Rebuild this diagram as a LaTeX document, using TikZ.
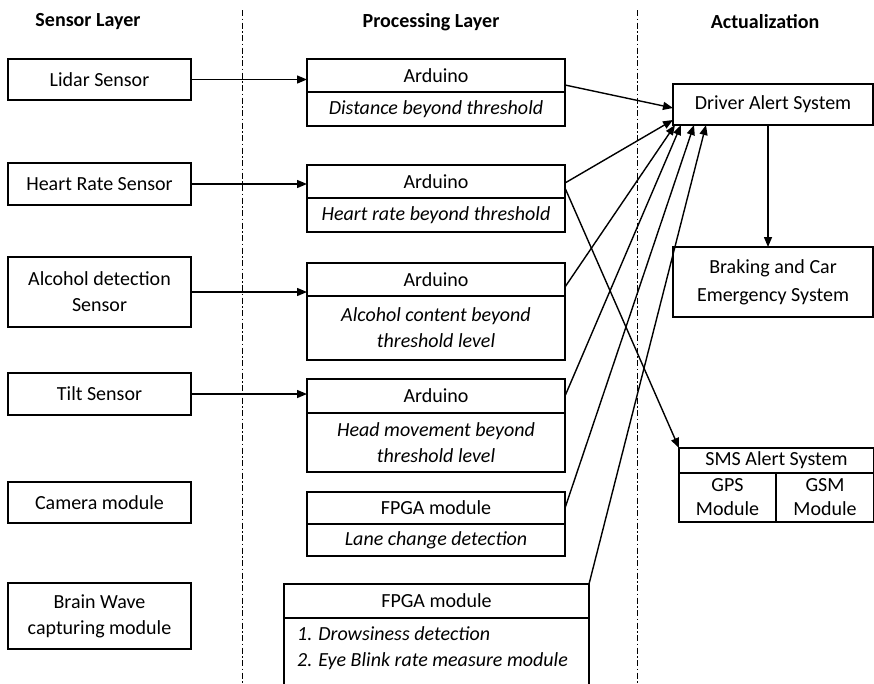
\documentclass[tikz,border=0pt]{standalone}
\usepackage{fontspec}
\setmainfont{Carlito}
\usetikzlibrary{arrows.meta}
\begin{document}
\begin{tikzpicture}[x=1pt,y=-1pt,
  box/.style={draw, line width=1.4pt, rectangle, inner sep=0pt, outer sep=0pt,
    anchor=north west, align=center, font=\fontsize{20}{26}\selectfont},
  ibox/.style={box, font=\fontsize{20}{26}\selectfont\itshape},
  head/.style={font=\fontsize{20}{24}\selectfont\bfseries},
  link/.style={line width=1.4pt, -{Triangle[length=10pt,width=8pt]}},
  layerline/.style={line width=0.9pt, dash pattern=on 6pt off 2.5pt on 1.5pt off 2.5pt}]
\useasboundingbox (0,0) rectangle (874,683);
\clip (0,0) rectangle (874,683);

% layer headings
\node[head] (hsensor) at (88,22) {Sensor Layer};
\node[head] (hproc) at (431,22) {Processing Layer};
\node[head] (hact) at (765,22) {Actualization};

% layer separators
\draw[layerline] (242,10) -- (242,683);
\draw[layerline] (637,10) -- (637,683);

% sensor layer
\node[box, minimum width=183, minimum height=41] (lidar) at (8,59) {Lidar Sensor};
\node[box, minimum width=183, minimum height=42] (heart) at (8,163) {Heart Rate Sensor};
\node[box, minimum width=183, minimum height=70] (alcohol) at (8,257) {Alcohol detection\\Sensor};
\node[box, minimum width=183, minimum height=42] (tilt) at (8,373) {Tilt Sensor};
\node[box, minimum width=183, minimum height=41] (camera) at (8,482) {Camera module};
\node[box, minimum width=183, minimum height=66] (brain) at (8,583) {Brain Wave\\capturing module};

% processing layer
\node[box, minimum width=258, minimum height=33] (a1t) at (307,59) {Arduino};
\node[ibox, minimum width=258, minimum height=34] (a1b) at (307,92) {Distance beyond threshold};
\node[box, minimum width=258, minimum height=33] (a2t) at (307,165) {Arduino};
\node[ibox, minimum width=258, minimum height=34] (a2b) at (307,198) {Heart rate beyond threshold};
\node[box, minimum width=258, minimum height=33] (a3t) at (307,263) {Arduino};
\node[ibox, minimum width=258, minimum height=64] (a3b) at (307,296) {Alcohol content beyond\\threshold level};
\node[box, minimum width=258, minimum height=34] (a4t) at (307,379) {Arduino};
\node[ibox, minimum width=258, minimum height=59] (a4b) at (307,413) {Head movement beyond\\threshold level};
\node[box, minimum width=258, minimum height=32] (f1t) at (307,492) {FPGA module};
\node[ibox, minimum width=258, minimum height=32] (f1b) at (307,524) {Lane change detection};
\node[box, minimum width=305, minimum height=34] (f2t) at (284,584) {FPGA module};
\node[box, minimum width=305, minimum height=80] (f2b) at (284,618) {};
\node[anchor=north west, inner sep=0pt, align=left,
  font=\fontsize{20}{26}\selectfont\itshape] (f2list) at (297,626)
  {1. Drowsiness detection\\2. Eye Blink rate measure module};

% actualization layer
\node[box, minimum width=200, minimum height=41] (alert) at (673,84) {Driver Alert System};
\node[box, minimum width=200, minimum height=70, font=\fontsize{20}{28}\selectfont] (brake) at (673,247) {Braking and Car\\Emergency System};
\node[box, minimum width=195, minimum height=25] (smst) at (679,448) {SMS Alert System};
\node[box, minimum width=97, minimum height=49, font=\fontsize{20}{24}\selectfont] (gps) at (679,473) {GPS\\Module};
\node[box, minimum width=98, minimum height=49, font=\fontsize{20}{24}\selectfont] (gsm) at (776,473) {GSM\\Module};

% sensor -> processing
\draw[link] (lidar.east) -- (lidar.east -| a1t.west);
\draw[link] (heart.east) -- (heart.east -| a2t.west);
\draw[link] (alcohol.east) -- (alcohol.east -| a3t.west);
\draw[link] (tilt.east) -- (tilt.east -| a4t.west);

% processing -> actualization
\draw[link] ([yshift=7pt]a1t.south east) -- ([yshift=-3.5pt]alert.west);
\draw[link] ([yshift=-1.5pt]a2t.east) -- ([yshift=5pt]alert.south west);
\draw[link] ([yshift=-6.5pt]a2t.east) -- (smst.north west);
\draw[link] ([yshift=-7.5pt]a3t.east) -- ([xshift=2pt]alert.south west);
\draw[link] (a4t.east) -- ([xshift=8pt]alert.south west);
\draw[link] (f1t.east) -- ([xshift=21pt]alert.south west);
\draw[link] (f2t.north east) -- ([xshift=33pt]alert.south west);

% driver alert -> braking
\draw[link] ([xshift=-5pt]alert.south) -- ([xshift=-5pt]brake.north);
\end{tikzpicture}
\end{document}
